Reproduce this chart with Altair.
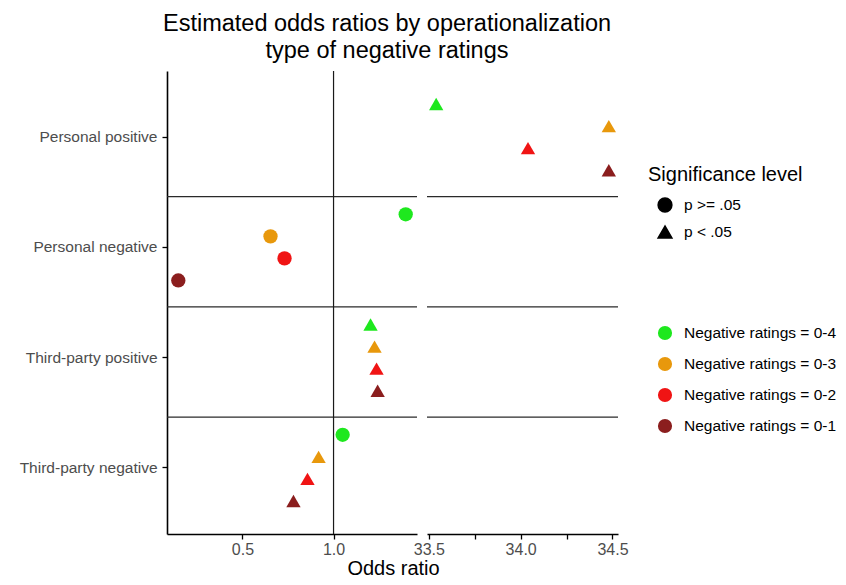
import altair as alt
import pandas as pd

FONT = "Liberation Sans"

categories = ["Personal positive", "Personal negative",
              "Third-party positive", "Third-party negative"]
groups = ["Negative ratings = 0-4", "Negative ratings = 0-3",
          "Negative ratings = 0-2", "Negative ratings = 0-1"]
significance = ["p >= .05", "p < .05"]
group_colors = ["#1EE81E", "#E8980C", "#F01414", "#8B1E1E"]
shapes = ["circle", "triangle-up"]

# odds ratios per category, in group order 0-4, 0-3, 0-2, 0-1
pp_or = [33.54, 34.48, 34.04, 34.48]
pp_sig = ["p < .05", "p < .05", "p < .05", "p < .05"]
pn_or = [1.396, 0.654, 0.731, 0.148]
pn_sig = ["p >= .05", "p >= .05", "p >= .05", "p >= .05"]
tp_or = [1.203, 1.225, 1.236, 1.242]
tp_sig = ["p < .05", "p < .05", "p < .05", "p < .05"]
tn_or = [1.05, 0.918, 0.857, 0.78]
tn_sig = ["p >= .05", "p < .05", "p < .05", "p < .05"]

left_ticks = [0.5, 1.0]
right_ticks = [33.5, 33.75, 34.0, 34.25, 34.5]
left_domain = [0.086, 1.458]
right_domain = [33.49, 34.53]
reference_or = [1.0]

rows = []
for cat, ors, sigs in zip(categories, [pp_or, pn_or, tp_or, tn_or],
                          [pp_sig, pn_sig, tp_sig, tn_sig]):
    for g, o, s in zip(groups, ors, sigs):
        rows.append({"category": cat, "group": g, "OR": o, "sig": s})
df = pd.DataFrame(rows)
bounds = pd.DataFrame({"category": categories[1:]})
ref = pd.DataFrame({"OR": reference_or})

W_LEFT, W_RIGHT, H = 250, 191, 463
BAND = H / 4.2  # band step of the category scale (outer padding 0.1 each side)

y_scale = alt.Scale(domain=categories, paddingInner=0, paddingOuter=0.1)
# dodge width: 80% of each category band
yoff_scale = alt.Scale(domain=groups, paddingInner=0, range=[0.1 * BAND, 0.9 * BAND])
color_scale = alt.Scale(domain=groups, range=group_colors)
shape_scale = alt.Scale(domain=significance, range=shapes)


def panel(xdomain, axis, legends, filt, show_y):
    base = alt.Chart(df).transform_filter(filt)
    if legends:
        shape_leg = alt.Legend(
            title="Significance level", orient="none", legendX=221, legendY=94,
            titleFontSize=20, titleFontWeight="normal", titleColor="black",
            titleFont=FONT, labelFont=FONT, labelFontSize=15.5, labelColor="black",
            symbolFillColor="black", symbolStrokeColor="black", symbolSize=190,
            symbolOffset=9, labelOffset=11, rowPadding=8, titlePadding=12,
            padding=0)
        color_leg = alt.Legend(
            title=None, orient="none", legendX=221, legendY=254,
            labelFont=FONT, labelFontSize=15.5, labelColor="black",
            symbolType="circle", symbolSize=200, symbolOffset=9,
            labelOffset=11, rowPadding=14, padding=0)
    else:
        shape_leg = None
        color_leg = None
    y_axis = alt.Axis(title=None, labelFont=FONT, labelFontSize=15.5,
                      labelColor="#4d4d4d", tickColor="black", tickSize=5,
                      tickWidth=1.3, domainColor="black", domainWidth=1.6,
                      labelPadding=5, grid=False) if show_y else None
    pts = base.mark_point(filled=True, opacity=1, size=205).encode(
        x=alt.X("OR:Q", scale=alt.Scale(domain=xdomain, nice=False, zero=False),
                axis=axis),
        y=alt.Y("category:N", sort=categories, scale=y_scale, axis=y_axis),
        yOffset=alt.YOffset("group:N", sort=groups, scale=yoff_scale),
        color=alt.Color("group:N", sort=groups, scale=color_scale, legend=color_leg),
        shape=alt.Shape("sig:N", sort=significance, scale=shape_scale, legend=shape_leg),
    )
    hl = alt.Chart(bounds).mark_rule(color="#2a2a2a", strokeWidth=1.3).encode(
        y=alt.Y("category:N", sort=categories, scale=y_scale, bandPosition=0.04,
                axis=y_axis)
    )
    return hl, pts


left_axis = alt.Axis(values=left_ticks, format=".1f", title="Odds ratio",
                     titleFont=FONT, titleFontSize=20, titleFontWeight="normal",
                     titleColor="black", titleX=226, titleY=40,
                     titleBaseline="alphabetic", titleAlign="center",
                     labelFont=FONT, labelFontSize=16, labelColor="#4d4d4d",
                     tickColor="black", tickSize=5, tickWidth=1.3,
                     domainColor="black", domainWidth=1.6, grid=False)
right_axis = alt.Axis(values=right_ticks, format=".1f", title=None,
                      labelExpr="indexof([33.5, 34, 34.5], datum.value) >= 0 ? format(datum.value, '.1f') : ''",
                      labelFont=FONT, labelFontSize=16, labelColor="#4d4d4d",
                      tickColor="black", tickSize=5, tickWidth=1.3,
                      domainColor="black", domainWidth=1.6, grid=False)

hl_l, pts_l = panel(left_domain, left_axis, False, alt.datum.OR < 10, True)
vline = alt.Chart(ref).mark_rule(color="#1a1a1a", strokeWidth=1.2).encode(
    x=alt.X("OR:Q", scale=alt.Scale(domain=left_domain, nice=False, zero=False),
            axis=left_axis)
)
left = alt.layer(pts_l, hl_l, vline).properties(
    width=W_LEFT, height=H,
    title=alt.TitleParams(
        ["Estimated odds ratios by operationalization", "type of negative ratings"],
        fontSize=23.5, fontWeight="normal", font=FONT, color="black",
        anchor="middle", frame="group", dx=95, offset=8, lineHeight=27),
)

hl_r, pts_r = panel(right_domain, right_axis, True, alt.datum.OR > 10, False)
right = alt.layer(pts_r, hl_r).properties(width=W_RIGHT, height=H)

chart = alt.hconcat(left, right, spacing=10, bounds="flush").resolve_scale(
    x="independent", y="shared", color="shared", shape="shared"
).resolve_legend(color="independent", shape="independent").properties(
    padding={"left": 11, "top": 3, "right": 0, "bottom": 0},
).configure(background="white").configure_view(
    stroke="transparent", strokeWidth=0, fill="white"
)

chart.save("out.html", embed_options={"renderer": "svg", "actions": False})
